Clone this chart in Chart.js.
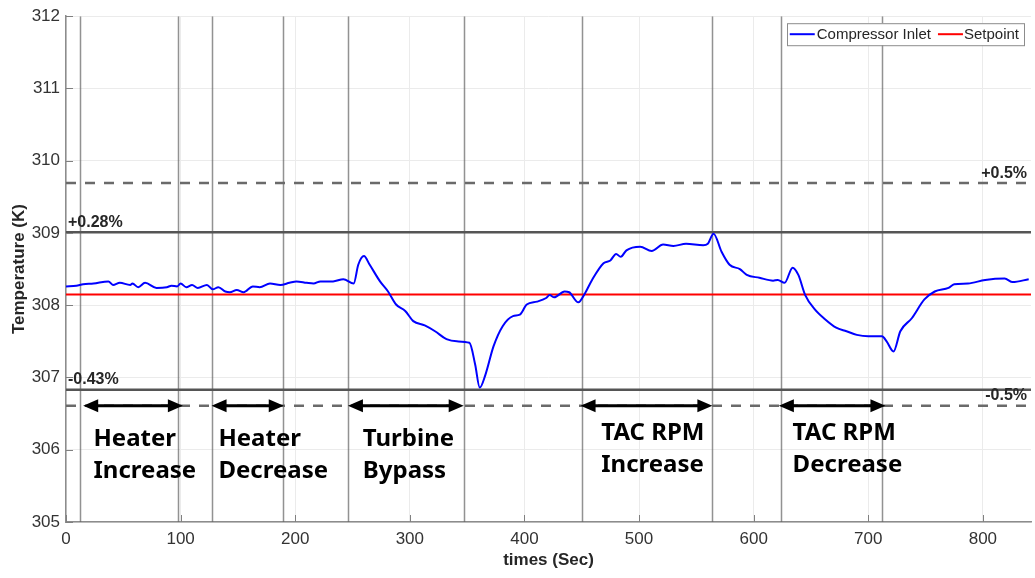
<!DOCTYPE html>
<html>
<head>
<meta charset="utf-8">
<script src="https://cdn.jsdelivr.net/npm/chart.js@4.4.1/dist/chart.umd.min.js"></script>
<style>
html, body { margin: 0; padding: 0; background: #fff; }
</style>
</head>
<body>
<canvas id="chart" width="1035" height="578"></canvas>
<script>
// time axis (s) and compressor inlet temperature (K)
var times = [0, 9, 15, 24, 37, 41, 47, 56, 58, 63, 69, 79, 88, 92, 97, 100, 105, 110, 115, 123,
    128, 133, 139, 143, 149, 155, 163, 169, 178, 187, 195, 201, 210, 216, 222, 233, 242, 251, 255, 260,
    265, 274, 281, 288, 296, 303, 313, 322, 332, 341, 352, 357, 361, 366, 373, 381, 390, 396, 402, 411,
    419, 422, 426, 435, 439, 447, 453, 459, 469, 475, 480, 484, 489, 501, 511, 521, 530, 541, 556, 560,
    565, 572, 579, 588, 594, 605, 617, 621, 627, 634, 639, 645, 653, 662, 672, 681, 690, 700, 712, 716,
    722, 728, 738, 749, 758, 770, 775, 787, 802, 819, 826, 840];
var inletTemp = [308.26, 308.27, 308.29, 308.30, 308.33, 308.28, 308.31, 308.28, 308.30, 308.25, 308.31, 308.24, 308.25, 308.27, 308.26, 308.30, 308.25, 308.28, 308.24, 308.28,
    308.22, 308.25, 308.19, 308.18, 308.21, 308.18, 308.26, 308.25, 308.30, 308.28, 308.31, 308.33, 308.31, 308.30, 308.33, 308.33, 308.36, 308.30, 308.56, 308.68,
    308.56, 308.33, 308.19, 308.01, 307.92, 307.78, 307.72, 307.64, 307.53, 307.50, 307.48, 307.18, 306.86, 307.04, 307.43, 307.71, 307.85, 307.87, 308.01, 308.05,
    308.10, 308.14, 308.11, 308.19, 308.18, 308.04, 308.17, 308.35, 308.58, 308.62, 308.71, 308.67, 308.76, 308.81, 308.75, 308.84, 308.82, 308.85, 308.83, 308.85,
    308.99, 308.74, 308.56, 308.50, 308.42, 308.38, 308.34, 308.35, 308.31, 308.52, 308.42, 308.14, 307.95, 307.81, 307.69, 307.64, 307.59, 307.57, 307.57, 307.50,
    307.36, 307.64, 307.82, 308.08, 308.19, 308.24, 308.29, 308.30, 308.35, 308.37, 308.32, 308.36];
var setpoint = 308.15;

var xTicks = [0, 100, 200, 300, 400, 500, 600, 700, 800];
var yTicks = [305, 306, 307, 308, 309, 310, 311, 312];

// event boundaries (s)
var eventLines = [12, 98, 127, 189, 246, 347, 450, 564, 624, 712];

// tolerance bands
var bandLevels = [309.69, 309.01, 306.83, 306.61];
var bandLabels = ['+0.5%', '+0.28%', '-0.43%', '-0.5%'];
var bandDashed = [true, false, false, true];

// test stages
var stageNames = [['Heater', 'Increase'], ['Heater', 'Decrease'], ['Turbine', 'Bypass'], ['TAC RPM', 'Increase'], ['TAC RPM', 'Decrease']];
var stageStart = [15, 127, 246, 449, 622];
var stageEnd = [102, 190, 347, 564, 715];
var stageTextX = [24, 133, 259, 467, 634];

var labelSide = ['right', 'left', 'left', 'right'];
var stageTextDrop = [33, 33, 33, 27, 27];

var overlay = {
    id: 'overlay',
    beforeDatasetsDraw: function(chart) {
        var ctx = chart.ctx, a = chart.chartArea;
        var xs = chart.scales.x, ys = chart.scales.y;
        ctx.save();
        ctx.beginPath();
        ctx.rect(a.left, a.top, a.right - a.left, a.bottom - a.top);
        ctx.clip();
        ctx.strokeStyle = 'rgba(100,100,100,0.7)';
        ctx.lineWidth = 1.5;
        eventLines.forEach(function(t) {
            var px = Math.round(xs.getPixelForValue(t)) + 0.5;
            ctx.beginPath();
            ctx.moveTo(px, a.top);
            ctx.lineTo(px, a.bottom);
            ctx.stroke();
        });
        bandLevels.forEach(function(v, i) {
            var py = ys.getPixelForValue(v);
            ctx.beginPath();
            ctx.lineWidth = 2.5;
            if (bandDashed[i]) {
                ctx.strokeStyle = '#6a6a6a';
                ctx.setLineDash([10, 9]);
            } else {
                ctx.strokeStyle = '#555555';
                ctx.setLineDash([]);
            }
            ctx.moveTo(a.left, py);
            ctx.lineTo(a.right, py);
            ctx.stroke();
        });
        ctx.restore();
    },
    afterDatasetsDraw: function(chart) {
        var ctx = chart.ctx, a = chart.chartArea;
        var xs = chart.scales.x, ys = chart.scales.y;
        ctx.save();

        // inner tick marks
        ctx.strokeStyle = '#808080';
        ctx.lineWidth = 1;
        xTicks.forEach(function(v) {
            var px = Math.round(xs.getPixelForValue(v)) + 0.5;
            ctx.beginPath();
            ctx.moveTo(px, a.bottom);
            ctx.lineTo(px, a.bottom - 7);
            ctx.stroke();
        });
        yTicks.forEach(function(v) {
            var py = Math.round(ys.getPixelForValue(v)) + 0.5;
            ctx.beginPath();
            ctx.moveTo(a.left, py);
            ctx.lineTo(a.left + 7, py);
            ctx.stroke();
        });

        // band labels
        ctx.fillStyle = '#262626';
        ctx.font = 'bold 16px "Liberation Sans", Arial, sans-serif';
        ctx.textBaseline = 'alphabetic';
        bandLevels.forEach(function(v, i) {
            var py = ys.getPixelForValue(v) - 5.5;
            if (labelSide[i] === 'right') {
                ctx.textAlign = 'right';
                ctx.fillText(bandLabels[i], a.right - 4, py);
            } else {
                ctx.textAlign = 'left';
                ctx.fillText(bandLabels[i], a.left + 2, py);
            }
        });

        // stage arrows and names
        var arrowY = ys.getPixelForValue(bandLevels[3]);
        ctx.fillStyle = '#000';
        ctx.strokeStyle = '#000';
        stageStart.forEach(function(s, i) {
            var x1 = xs.getPixelForValue(s), x2 = xs.getPixelForValue(stageEnd[i]);
            var head = 15, half = 6.5;
            ctx.lineWidth = 3;
            ctx.beginPath();
            ctx.moveTo(x1 + head - 2, arrowY);
            ctx.lineTo(x2 - head + 2, arrowY);
            ctx.stroke();
            ctx.beginPath();
            ctx.moveTo(x1, arrowY);
            ctx.lineTo(x1 + head, arrowY - half);
            ctx.lineTo(x1 + head, arrowY + half);
            ctx.closePath();
            ctx.fill();
            ctx.beginPath();
            ctx.moveTo(x2, arrowY);
            ctx.lineTo(x2 - head, arrowY - half);
            ctx.lineTo(x2 - head, arrowY + half);
            ctx.closePath();
            ctx.fill();

            ctx.font = 'bold 24px "Noto Sans", sans-serif';
            ctx.textAlign = 'left';
            ctx.textBaseline = 'middle';
            var tx = xs.getPixelForValue(stageTextX[i]);
            var ty = arrowY + stageTextDrop[i];
            stageNames[i].forEach(function(line, k) {
                ctx.fillText(line, tx, ty + k * 32);
            });
        });

        // legend box
        ctx.font = '15px "Liberation Sans", Arial, sans-serif';
        var names = chart.data.datasets.map(function(d) { return d.label; });
        var w1 = ctx.measureText(names[0]).width, w2 = ctx.measureText(names[1]).width;
        var bw = 3 + 25 + 2 + w1 + 7 + 25 + 1 + w2 + 5;
        var bx = a.right - 7 - bw, by = a.top + 7, bh = 22;
        ctx.fillStyle = '#fff';
        ctx.fillRect(bx, by, bw, bh);
        ctx.strokeStyle = '#8c8c8c';
        ctx.lineWidth = 1;
        ctx.strokeRect(Math.round(bx) + 0.5, by + 0.5, Math.round(bw), bh);
        var cy = by + bh / 2;
        var cx = bx + 3;
        ctx.lineWidth = 2;
        ctx.strokeStyle = chart.data.datasets[0].borderColor;
        ctx.beginPath(); ctx.moveTo(cx, cy); ctx.lineTo(cx + 25, cy); ctx.stroke();
        cx += 27;
        ctx.fillStyle = '#262626';
        ctx.textAlign = 'left';
        ctx.textBaseline = 'middle';
        ctx.fillText(names[0], cx, cy + 1);
        cx += w1 + 7;
        ctx.strokeStyle = chart.data.datasets[1].borderColor;
        ctx.beginPath(); ctx.moveTo(cx, cy); ctx.lineTo(cx + 25, cy); ctx.stroke();
        cx += 26;
        ctx.fillText(names[1], cx, cy + 1);

        ctx.restore();
    }
};

var tickFont = { family: '"Liberation Sans", Arial, sans-serif', size: 17 };
var titleFont = { family: '"Liberation Sans", Arial, sans-serif', size: 17, weight: 'bold' };

new Chart(document.getElementById('chart').getContext('2d'), {
    type: 'line',
    data: {
        datasets: [{
            label: 'Compressor Inlet',
            data: times.map(function(t, i) { return { x: t, y: inletTemp[i] }; }),
            borderColor: '#0000ff',
            borderWidth: 2,
            pointRadius: 0,
            tension: 0.3,
            cubicInterpolationMode: 'monotone'
        }, {
            label: 'Setpoint',
            data: [{ x: 0, y: setpoint }, { x: 842, y: setpoint }],
            borderColor: '#ff0000',
            borderWidth: 2,
            pointRadius: 0
        }]
    },
    options: {
        responsive: false,
        animation: false,
        devicePixelRatio: 1,
        layout: { padding: { top: 13, right: 4, left: 0, bottom: 0 } },
        plugins: { legend: { display: false }, tooltip: { enabled: false } },
        scales: {
            x: {
                type: 'linear',
                min: 0,
                max: 842,
                afterBuildTicks: function(s) { s.ticks = xTicks.map(function(v) { return { value: v }; }); },
                afterFit: function(s) { s.height = 56; },
                grid: { color: '#ebebeb', lineWidth: 1, drawTicks: false },
                border: { color: '#8c8c8c', width: 1.5 },
                ticks: { padding: 7, font: tickFont, color: '#333', maxRotation: 0 },
                title: { display: true, text: 'times (Sec)', font: titleFont, color: '#262626', padding: { top: 0, bottom: 7 } }
            },
            y: {
                min: 305,
                max: 312,
                afterBuildTicks: function(s) { s.ticks = yTicks.map(function(v) { return { value: v }; }); },
                afterFit: function(s) { s.width = 66; },
                grid: { color: '#ebebeb', lineWidth: 1, drawTicks: false },
                border: { color: '#8c8c8c', width: 1.5 },
                ticks: { padding: 6, font: tickFont, color: '#333' },
                title: { display: true, text: 'Temperature (K)', font: titleFont, color: '#262626', padding: { top: 9, bottom: 0 } }
            }
        }
    },
    plugins: [overlay]
});
</script>
</body>
</html>
